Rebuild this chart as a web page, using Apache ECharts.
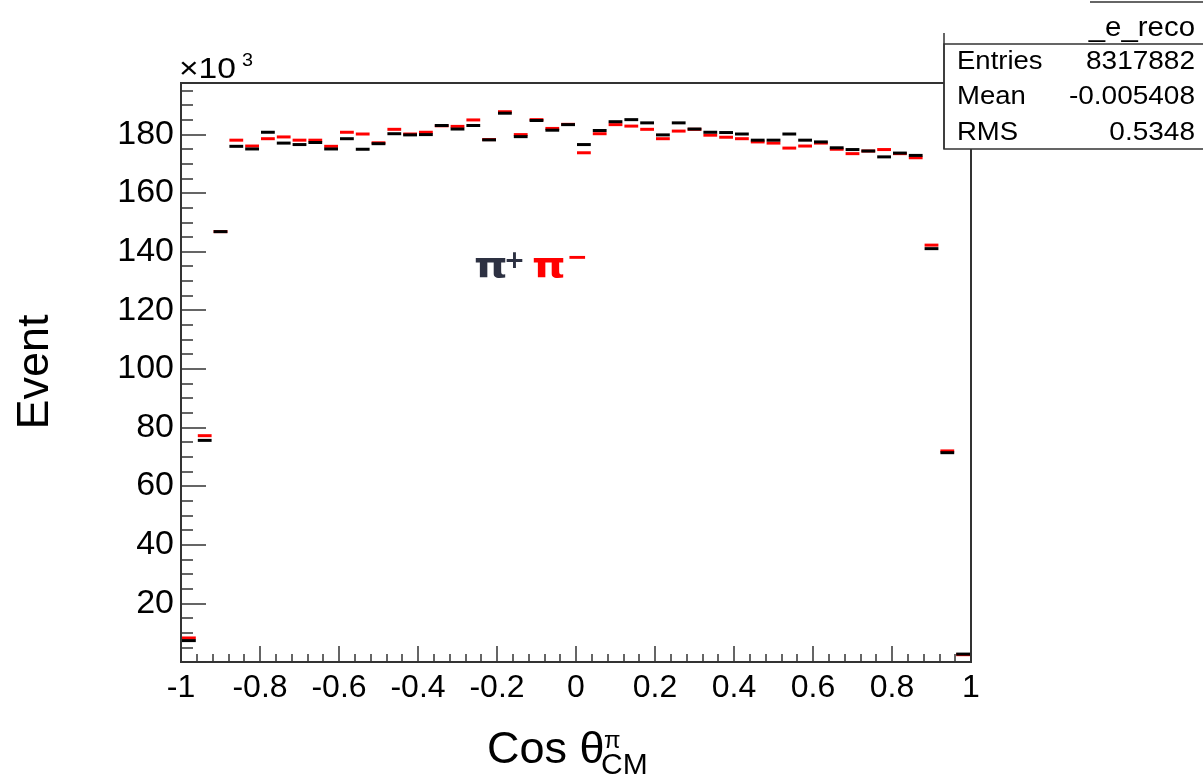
<!DOCTYPE html>
<html>
<head>
<meta charset="utf-8">
<title>Cos theta distribution</title>
<script src="https://cdn.jsdelivr.net/npm/echarts@6/dist/echarts.min.js"></script>
<style>
  html, body { margin: 0; padding: 0; background: #ffffff; }
  #chart { width: 1203px; height: 782px; }
</style>
</head>
<body>
<div id="chart"></div>
<script>
// Histogram binning on cos(theta): 50 bins from -1 to 1
const xMin = -1;
const xMax = 1;
const nBins = 50;

// Bin contents, in units of 10^3 events
const piPlusCounts = [
  7.3, 75.6, 146.8, 175.9, 175.0, 180.7, 177.0, 176.5, 177.2, 175.0,
  178.5, 174.9, 176.8, 180.2, 179.8, 179.9, 183.0, 181.8, 183.0, 178.1,
  187.2, 179.2, 184.7, 181.4, 183.3, 176.5, 181.3, 184.3, 185.0, 183.9,
  179.8, 183.9, 181.8, 180.7, 180.6, 180.1, 178.0, 178.0, 180.1, 178.0,
  177.4, 175.4, 174.8, 174.3, 172.3, 173.6, 172.8, 141.0, 71.4, 2.7
];
const piMinusCounts = [
  8.2, 77.2, 146.8, 178.0, 176.0, 178.5, 179.1, 178.0, 178.0, 175.9,
  180.7, 180.1, 177.1, 181.7, 180.1, 180.7, 182.9, 182.7, 184.9, 178.2,
  187.7, 179.9, 185.0, 182.0, 183.4, 173.7, 180.2, 183.3, 182.8, 181.7,
  178.5, 181.1, 181.7, 179.7, 179.0, 178.5, 177.4, 177.0, 175.3, 176.0,
  177.0, 174.9, 173.4, 174.3, 174.8, 173.4, 172.0, 142.2, 72.0, 2.5
];

// Axis ticks
const xTicks = [-1, -0.8, -0.6, -0.4, -0.2, 0, 0.2, 0.4, 0.6, 0.8, 1];
const yTicks = [20, 40, 60, 80, 100, 120, 140, 160, 180];

// Statistics box contents
const statsTitle = '_e_reco';
const statsRows = [
  ['Entries', '8317882'],
  ['Mean', '-0.005408'],
  ['RMS', '0.5348']
];

const FONT = 'Liberation Sans';
const binWidth = (xMax - xMin) / nBins;

function toBins(counts) {
  return counts.map((v, i) => [xMin + i * binWidth, xMin + (i + 1) * binWidth, v]);
}

// Each bin is drawn as a horizontal dash spanning the bin width
function dashSeries(name, counts, color, width) {
  return {
    name: name,
    type: 'custom',
    data: toBins(counts),
    encode: { x: [0, 1], y: 2 },
    renderItem: function (params, api) {
      const a = api.coord([api.value(0), api.value(2)]);
      const b = api.coord([api.value(1), api.value(2)]);
      return {
        type: 'line',
        shape: { x1: a[0] + 1, y1: a[1], x2: b[0] - 1, y2: b[1] },
        style: { stroke: color, lineWidth: width }
      };
    }
  };
}

function txt(x, y, text, font, opts) {
  const o = opts || {};
  return {
    type: 'text', x: x, y: y, z: 101,
    rotation: o.rotation || 0,
    scaleX: o.scaleX || 1,
    style: {
      text: text, font: font, fill: o.fill || '#000',
      align: o.align || 'left', verticalAlign: o.verticalAlign || 'middle'
    }
  };
}

const chart = echarts.init(document.getElementById('chart'), null, { renderer: 'canvas' });

const graphics = [
  // axis titles
  txt(36, 372, 'Event', '45px "' + FONT + '"', { rotation: Math.PI / 2, align: 'center' }),
  txt(487, 751, 'Cos θ', '45px "' + FONT + '"'),
  txt(604, 741, 'π', '24px "' + FONT + '"'),
  txt(601, 766, 'CM', '30px "' + FONT + '"'),
  // exponent of the y axis
  txt(179, 70, '×10', '30px "' + FONT + '"', { scaleX: 1.12 }),
  txt(242, 61, '3', '18px "' + FONT + '"', { scaleX: 1.1 }),
  // particle label
  txt(474, 269, 'π', 'bold 35px "DejaVu Sans"', { fill: '#2d3142', scaleX: 1.22 }),
  txt(504, 261, '+', 'bold 25px "DejaVu Sans"', { fill: '#2d3142' }),
  txt(532, 269, 'π', 'bold 35px "DejaVu Sans"', { fill: '#ff0000', scaleX: 1.22 }),
  txt(567, 258, '−', 'bold 25px "DejaVu Sans"', { fill: '#ff0000' }),
  // statistics box frame
  {
    type: 'rect', z: 100,
    shape: { x: 944, y: 44, width: 270, height: 105 },
    style: { fill: '#ffffff', stroke: '#333', lineWidth: 1.5 }
  },
  {
    type: 'line', z: 101,
    shape: { x1: 944, y1: 33, x2: 944, y2: 149 },
    style: { stroke: '#333', lineWidth: 1.5 }
  },
  {
    type: 'line', z: 101,
    shape: { x1: 1090, y1: 2, x2: 1203, y2: 2 },
    style: { stroke: '#333', lineWidth: 1.5 }
  },
  txt(1195, 28, statsTitle, '28px "' + FONT + '"', { align: 'right', scaleX: 1.05 })
];

statsRows.forEach((row, k) => {
  const y = 62 + k * 35.5;
  graphics.push(txt(957, y, row[0], '25px "' + FONT + '"', { scaleX: 1.1 }));
  graphics.push(txt(1195, y, row[1], '25px "' + FONT + '"', { align: 'right', scaleX: 1.12 }));
});

const option = {
  animation: false,
  backgroundColor: '#ffffff',
  grid: {
    left: 181, top: 83, width: 790, height: 579,
    show: true, borderColor: '#333', borderWidth: 2, backgroundColor: 'transparent'
  },
  xAxis: {
    type: 'value',
    min: xMin, max: xMax, interval: 0.2,
    axisLine: { show: true, onZero: false, lineStyle: { color: '#333', width: 2 } },
    axisTick: { show: true, inside: true, length: 16, lineStyle: { color: '#333', width: 1.5 } },
    minorTick: { show: true, splitNumber: 5, length: 8, lineStyle: { color: '#333', width: 1.5 } },
    splitLine: { show: false },
    axisLabel: {
      margin: 10, color: '#000', fontFamily: FONT, fontSize: 32,
      formatter: function (v) {
        const r = Math.round(v * 10) / 10;
        return xTicks.indexOf(r) >= 0 ? String(r) : '';
      }
    }
  },
  yAxis: {
    type: 'value',
    min: 0, max: 197.5, interval: 20,
    axisLine: { show: true, onZero: false, lineStyle: { color: '#333', width: 2 } },
    axisTick: { show: true, inside: true, length: 25, lineStyle: { color: '#333', width: 1.5 } },
    minorTick: { show: true, splitNumber: 4, length: 12, lineStyle: { color: '#333', width: 1.5 } },
    splitLine: { show: false },
    axisLabel: {
      margin: 7, color: '#000', fontFamily: FONT, fontSize: 34,
      showMinLabel: false, showMaxLabel: false,
      formatter: function (v) {
        return yTicks.indexOf(Math.round(v)) >= 0 ? String(Math.round(v)) : '';
      }
    }
  },
  series: [
    dashSeries('π−', piMinusCounts, '#ff0000', 3),
    dashSeries('π+', piPlusCounts, '#000000', 3)
  ],
  graphic: graphics
};

chart.setOption(option);
</script>
</body>
</html>
